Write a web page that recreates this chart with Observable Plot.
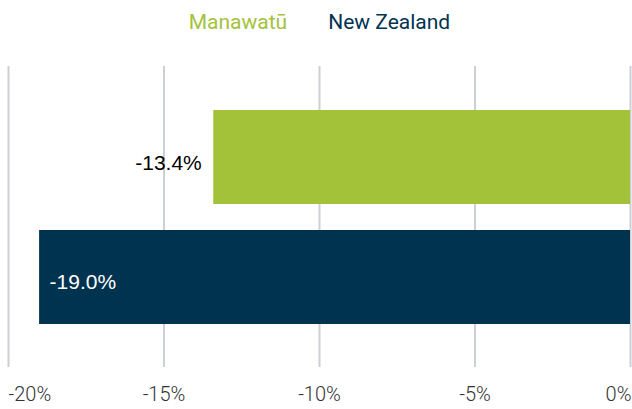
<!DOCTYPE html>
<html>
<head>
<meta charset="utf-8">
<script src="https://cdn.jsdelivr.net/npm/d3@7"></script>
<script src="https://cdn.jsdelivr.net/npm/@observablehq/plot@0.6"></script>
<style>
  html, body { margin: 0; padding: 0; background: #fff; }
  #legend { height: 45px; display: flex; justify-content: center; align-items: flex-start; gap: 41px; padding-left: 7px; box-sizing: border-box; font-family: Roboto, sans-serif; font-size: 21px; line-height: 1; padding-top: 12px; }
  svg { display: block; overflow: visible; }
</style>
</head>
<body>
<div id="legend"></div>
<div id="chart"></div>
<script>
const categories = ["Manawatū", "New Zealand"];
const values = [-13.4, -19.0];
const colors = ["#a3c23a", "#003350"];
const tickValues = [-20, -15, -10, -5, 0];
const tickLabels = ["-20%", "-15%", "-10%", "-5%", "0%"];

const data = categories.map((c, i) => ({ category: c, value: values[i] }));
const ticks = tickValues.map((v, i) => ({ v, label: tickLabels[i] }));

const legend = document.getElementById("legend");
categories.forEach((c, i) => {
  const s = document.createElement("span");
  s.textContent = c;
  s.style.color = colors[i];
  legend.appendChild(s);
});

const fmt = v => v.toFixed(1) + "%";

const chart = Plot.plot({
  width: 632,
  height: 364,
  marginLeft: 8,
  marginRight: 2,
  marginTop: 21,
  marginBottom: 42,
  x: { domain: [-20, 0], axis: null },
  y: { domain: categories, range: [38.5, 305.5], padding: 0.22, axis: null },
  color: { domain: categories, range: colors },
  marks: [
    Plot.ruleX(tickValues, { stroke: "#ccd0d4", strokeWidth: 2 }),
    Plot.barX(data, { y: "category", x1: 0, x2: "value", fill: "category" }),
    Plot.text(data.filter(d => d.value >= -15), {
      y: "category", x: "value", text: d => fmt(d.value),
      textAnchor: "end", dx: -12, dy: 6, fill: "#000",
      fontSize: 21, fontFamily: "Liberation Sans, Arial, sans-serif"
    }),
    Plot.text(data.filter(d => d.value < -15), {
      y: "category", x: "value", text: d => fmt(d.value),
      textAnchor: "start", dx: 10, dy: 5, fill: "#fff",
      fontSize: 21, fontFamily: "Liberation Sans, Arial, sans-serif"
    }),
    Plot.text(ticks.slice(0, 1), {
      x: "v", text: "label", frameAnchor: "bottom", dy: 33.6,
      textAnchor: "start", fill: "#333", fontSize: 20, fontWeight: 300, fontFamily: "Roboto, sans-serif"
    }),
    Plot.text(ticks.slice(1, -1), {
      x: "v", text: "label", frameAnchor: "bottom", dy: 33.6,
      textAnchor: "middle", fill: "#333", fontSize: 20, fontWeight: 300, fontFamily: "Roboto, sans-serif"
    }),
    Plot.text(ticks.slice(-1), {
      x: "v", text: "label", frameAnchor: "bottom", dy: 33.6, dx: 1,
      textAnchor: "end", fill: "#333", fontSize: 20, fontWeight: 300, fontFamily: "Roboto, sans-serif"
    })
  ]
});
document.getElementById("chart").appendChild(chart);
</script>
</body>
</html>
